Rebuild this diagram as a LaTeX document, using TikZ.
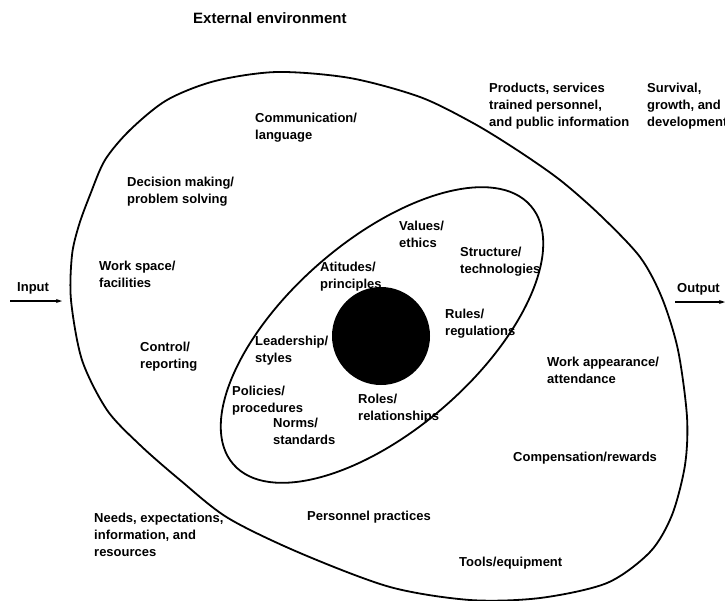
\documentclass[tikz,border=0pt]{standalone}
\usepackage{fontspec}
\setmainfont{Liberation Sans}
\usetikzlibrary{arrows.meta}

\begin{document}
\begin{tikzpicture}[x=1pt,y=-1pt,
    lbl/.style={anchor=north west,inner sep=0pt,align=left,font=\bfseries\fontsize{13}{16.7}\selectfont},
    rim/.style={line width=1.8pt}]
                  \useasboundingbox (0,0) rectangle (725,600);

                  \draw[rim] plot[smooth cycle] coordinates {(277,72) (350,78) (420,97) (473,123) (517,150) (560,180) (600,215) (640,257) (662,298) (678,350) (687,417) (685,465) (672,515) (650,552) (607,583) (540,598) (470,600) (390,587) (300,553) (228,518) (180,480) (140,445) (107,410) (82,360) (71,300) (72,255) (79,225) (90,195) (105,160) (130,130) (167,100) (215,81)};
                  \draw[rim,rotate around={41:(382,335)}] (382,335) ellipse [x radius=197, y radius=95];
                  \node[circle,fill=black,minimum size=98pt,inner sep=0pt] (core) at (381,336) {};

                  \node[lbl,font=\bfseries\fontsize{15}{18}\selectfont] (extenv) at (193,12) {External environment};
                  \node[lbl] (products) at (489,83) {Products, services\\trained personnel,\\and public information};
                  \node[lbl] (survival) at (647,83) {Survival,\\growth, and\\development};
                  \node[lbl] (comm) at (255,113) {Communication/\\language};
                  \node[lbl] (decision) at (127,177) {Decision making/\\problem solving};
                  \node[lbl] (workspace) at (99,261) {Work space/\\facilities};
                  \node[lbl] (control) at (140,342) {Control/\\reporting};
                  \node[lbl] (values) at (399,221) {Values/\\ethics};
                  \node[lbl] (structure) at (460,247) {Structure/\\technologies};
                  \node[lbl] (atitudes) at (320,262) {Atitudes/\\principles};
                  \node[lbl] (rules) at (445,309) {Rules/\\regulations};
                  \node[lbl] (leadership) at (255,336) {Leadership/\\styles};
                  \node[lbl] (policies) at (232,386) {Policies/\\procedures};
                  \node[lbl] (roles) at (358,394) {Roles/\\relationships};
                  \node[lbl] (norms) at (273,418) {Norms/\\standards};
                  \node[lbl] (workapp) at (547,357) {Work appearance/\\attendance};
                  \node[lbl] (comp) at (513,452) {Compensation/rewards};
                  \node[lbl] (needs) at (94,513) {Needs, expectations,\\information, and\\resources};
                  \node[lbl] (personnel) at (307,511) {Personnel practices};
                  \node[lbl] (tools) at (459,557) {Tools/equipment};

                  \node[lbl] (input) at (17,282) {Input};
                  \node[lbl] (output) at (677,283) {Output};
                  \coordinate (in0) at (10,301);
                  \coordinate (in1) at (62,301);
                  \coordinate (out0) at (675,302);
                  \coordinate (out1) at (725,302);
                  \draw[line width=1.1pt,-{Stealth[length=6pt,width=4pt]}] (in0) -- (in1);
                  \draw[line width=1.1pt,-{Stealth[length=6pt,width=4pt]}] (out0) -- (out1);
              \end{tikzpicture}
\end{document}
